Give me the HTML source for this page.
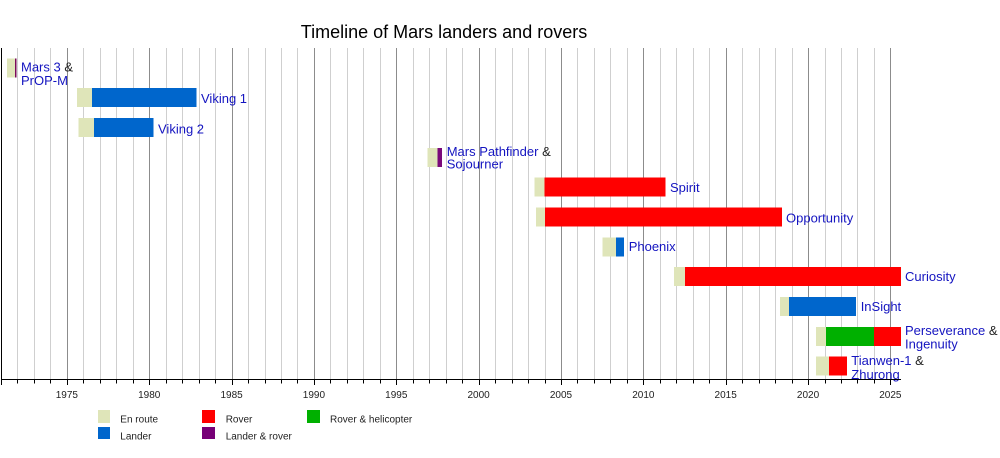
<!DOCTYPE html>
<html>
<head>
<meta charset="utf-8">
<style>
  html,body{margin:0;padding:0;background:#fff;}
  svg{display:block;font-family:"Liberation Sans",Arial,sans-serif;}
  .lbl{font-size:13px;fill:#1414c0;}
  .amp{fill:#222;}
  .tick{font-size:10px;fill:#222;text-anchor:middle;}
  .leg{font-size:10px;fill:#222;}
</style>
</head>
<body>
<svg width="1000" height="458" viewBox="0 0 1000 458" xmlns="http://www.w3.org/2000/svg">
  <rect width="1000" height="458" fill="#fff"/>
  <text x="444" y="38" font-size="18" text-anchor="middle" fill="#000">Timeline of Mars landers and rovers</text>

  <g id="grid"></g>

  <!-- bars -->
  <g shape-rendering="crispEdges">
    <!-- Mars 3 -->
    <rect x="7" y="58.3" width="8" height="19" fill="#dfe5b9"/>
    <rect x="15" y="58.3" width="1.6" height="19" fill="#7a0a5a"/>
    <!-- Viking 1 -->
    <rect x="77" y="88.1" width="15" height="19" fill="#dfe5b9"/>
    <rect x="92" y="88.1" width="104.7" height="19" fill="#0066cc"/>
    <!-- Viking 2 -->
    <rect x="78.3" y="118" width="15.7" height="19" fill="#dfe5b9"/>
    <rect x="94" y="118" width="59.7" height="19" fill="#0066cc"/>
    <!-- Pathfinder -->
    <rect x="427.3" y="147.8" width="10" height="19" fill="#dfe5b9"/>
    <rect x="437.3" y="147.8" width="4.7" height="19" fill="#7a0a7a"/>
    <!-- Spirit -->
    <rect x="534.5" y="177.7" width="10" height="19" fill="#dfe5b9"/>
    <rect x="544.5" y="177.7" width="121.2" height="19" fill="#ff0000"/>
    <!-- Opportunity -->
    <rect x="536" y="207.5" width="9" height="19" fill="#dfe5b9"/>
    <rect x="545" y="207.5" width="237" height="19" fill="#ff0000"/>
    <!-- Phoenix -->
    <rect x="602.7" y="237.3" width="13.3" height="19" fill="#dfe5b9"/>
    <rect x="616" y="237.3" width="8" height="19" fill="#0066cc"/>
    <!-- Curiosity -->
    <rect x="674" y="267.2" width="11" height="19" fill="#dfe5b9"/>
    <rect x="685" y="267.2" width="216" height="19" fill="#ff0000"/>
    <!-- InSight -->
    <rect x="780" y="297" width="9" height="19" fill="#dfe5b9"/>
    <rect x="789" y="297" width="67" height="19" fill="#0066cc"/>
    <!-- Perseverance -->
    <rect x="816" y="326.9" width="10" height="19" fill="#dfe5b9"/>
    <rect x="826" y="326.9" width="48" height="19" fill="#00b000"/>
    <rect x="874" y="326.9" width="27" height="19" fill="#ff0000"/>
    <!-- Tianwen-1 -->
    <rect x="816" y="356.7" width="13" height="19" fill="#dfe5b9"/>
    <rect x="829" y="356.7" width="18" height="19" fill="#ff0000"/>
  </g>

  <!-- labels -->
  <text class="lbl" x="21" y="71.7">Mars 3 <tspan class="amp">&amp;</tspan></text>
  <text class="lbl" x="21" y="85">PrOP-M</text>
  <text class="lbl" x="201" y="103">Viking 1</text>
  <text class="lbl" x="158" y="133.3">Viking 2</text>
  <text class="lbl" x="446.7" y="156">Mars Pathfinder <tspan class="amp">&amp;</tspan></text>
  <text class="lbl" x="446.7" y="168.5">Sojourner</text>
  <text class="lbl" x="670" y="192">Spirit</text>
  <text class="lbl" x="786" y="222.3">Opportunity</text>
  <text class="lbl" x="628.7" y="251">Phoenix</text>
  <text class="lbl" x="905" y="281">Curiosity</text>
  <text class="lbl" x="860.7" y="311">InSight</text>
  <text class="lbl" x="905" y="335">Perseverance <tspan class="amp">&amp;</tspan></text>
  <text class="lbl" x="905" y="348.3">Ingenuity</text>
  <text class="lbl" x="851.3" y="365">Tianwen-1 <tspan class="amp">&amp;</tspan></text>
  <text class="lbl" x="851.3" y="379">Zhurong</text>

  <g id="axis"></g>

  <!-- legend -->
  <g shape-rendering="crispEdges">
    <rect x="98" y="410" width="12" height="13" fill="#dfe5b9"/>
    <rect x="98" y="427" width="12" height="12" fill="#0066cc"/>
    <rect x="202" y="410" width="13" height="13" fill="#ff0000"/>
    <rect x="202" y="427" width="13" height="12" fill="#770077"/>
    <rect x="307" y="410" width="13" height="13" fill="#00b000"/>
  </g>
  <text class="leg" x="120.3" y="422.7">En route</text>
  <text class="leg" x="120.3" y="439.3">Lander</text>
  <text class="leg" x="225.7" y="422.7">Rover</text>
  <text class="leg" x="225.7" y="439.3">Lander &amp; rover</text>
  <text class="leg" x="330" y="422.7">Rover &amp; helicopter</text>

  <script>
    (function(){
      var ns="http://www.w3.org/2000/svg";
      var grid=document.getElementById("grid");
      var axis=document.getElementById("axis");
      function X(y){return 1+(y-1971)*16.47;}
      for(var y=1972;y<=2025;y++){
        var x=Math.round(X(y))+0.5;
        var major=(y%5===0);
        var l=document.createElementNS(ns,"line");
        l.setAttribute("x1",x);l.setAttribute("x2",x);
        l.setAttribute("y1",48);l.setAttribute("y2",379);
        l.setAttribute("stroke",major?"#8c8c8c":"#cfcfcf");
        l.setAttribute("stroke-width","1");
        grid.appendChild(l);
        var t=document.createElementNS(ns,"line");
        t.setAttribute("x1",x);t.setAttribute("x2",x);
        t.setAttribute("y1",379);t.setAttribute("y2",major?385:383.5);
        t.setAttribute("stroke","#000");
        axis.appendChild(t);
        if(major){
          var tx=document.createElementNS(ns,"text");
          tx.setAttribute("x",X(y));tx.setAttribute("y",398);
          tx.setAttribute("class","tick");
          tx.textContent=String(y);
          axis.appendChild(tx);
        }
      }
      var v=document.createElementNS(ns,"line");
      v.setAttribute("x1",1.5);v.setAttribute("x2",1.5);
      v.setAttribute("y1",48);v.setAttribute("y2",385);
      v.setAttribute("stroke","#000");
      axis.appendChild(v);
      var h=document.createElementNS(ns,"line");
      h.setAttribute("x1",1);h.setAttribute("x2",901);
      h.setAttribute("y1",379.5);h.setAttribute("y2",379.5);
      h.setAttribute("stroke","#000");
      axis.appendChild(h);
    })();
  </script>
</svg>
</body>
</html>
